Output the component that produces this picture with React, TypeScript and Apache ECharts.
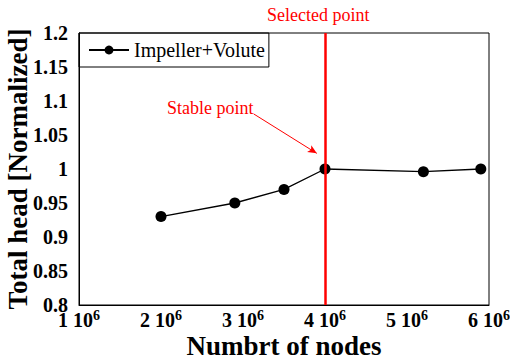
import React, { useEffect, useRef } from "react";
import * as echarts from "echarts";

const nodeCounts = [2.0e6, 2.9e6, 3.5e6, 4.0e6, 5.2e6, 5.9e6];
const headValues = [0.93, 0.95, 0.97, 1.0, 0.996, 1.0];
const selectedNodes = 4.0e6;
const arrowStart = [3.13e6, 1.081];
const arrowEnd = [3.9e6, 1.023];
const seriesName = "Impeller+Volute";

const FONT = "Liberation Serif";

export default function App() {
  const ref = useRef<HTMLDivElement>(null);
  useEffect(() => {
    if (!ref.current) return;
    const chart = echarts.init(ref.current, undefined, { renderer: "svg" });
    chart.setOption({
      animation: false,
      backgroundColor: "#fff",
      textStyle: { fontFamily: FONT },
      grid: {
        left: 79,
        right: 21,
        top: 33,
        bottom: 55,
        show: true,
        borderColor: "#000",
        borderWidth: 1,
        containLabel: false,
        outerBoundsMode: "none",
      },
      legend: {
        left: 79,
        top: 33,
        orient: "horizontal",
        borderColor: "#000",
        borderWidth: 1,
        padding: [7, 4, 7, 9],
        itemWidth: 40,
        itemHeight: 11,
        itemGap: 4,
        textStyle: { fontFamily: FONT, fontSize: 20, color: "#000" },
        data: [seriesName],
      },
      xAxis: {
        type: "value",
        min: 1e6,
        max: 6e6,
        interval: 1e6,
        splitLine: { show: false },
        axisTick: { show: false },
        axisLine: { show: true, lineStyle: { color: "#000", width: 1 } },
        axisLabel: {
          margin: 3,
          formatter: (v: number) => `{b|${Math.round(v / 1e6)} 10}{s|6}`,
          rich: {
            b: {
              fontFamily: FONT,
              fontSize: 20,
              fontWeight: 700,
              color: "#000",
              lineHeight: 22,
              verticalAlign: "bottom",
            },
            s: {
              fontFamily: FONT,
              fontSize: 14,
              fontWeight: 700,
              color: "#000",
              lineHeight: 13,
              verticalAlign: "top",
            },
          },
        },
        name: "Numbrt of nodes",
        nameLocation: "middle",
        nameGap: 27,
        nameMoveOverlap: false,
        nameTextStyle: {
          fontFamily: FONT,
          fontSize: 27,
          lineHeight: 27,
          fontWeight: 700,
          color: "#000",
          verticalAlign: "top",
        },
      },
      yAxis: {
        type: "value",
        min: 0.8,
        max: 1.2,
        interval: 0.05,
        splitLine: { show: false },
        axisTick: { show: false },
        axisLine: { show: true, lineStyle: { color: "#000", width: 1 } },
        axisLabel: {
          margin: 11,
          fontFamily: FONT,
          fontSize: 20,
          fontWeight: 700,
          color: "#000",
          padding: [0, 0, 6, 0],
          formatter: (v: number) => String(Math.round(v * 100) / 100),
        },
        name: "Total head [Normalized]",
        nameLocation: "middle",
        nameGap: 48,
        nameMoveOverlap: false,
        nameTextStyle: {
          fontFamily: FONT,
          fontSize: 27,
          lineHeight: 27,
          fontWeight: 700,
          color: "#000",
        },
      },
      graphic: [
        {
          type: "text",
          left: 267,
          top: 6,
          style: {
            text: "Selected point",
            fill: "#ff0000",
            fontFamily: FONT,
            fontSize: 18,
          },
        },
        {
          type: "text",
          left: 167,
          top: 99,
          style: {
            text: "Stable point",
            fill: "#ff0000",
            fontFamily: FONT,
            fontSize: 18,
          },
        },
      ],
      series: [
        {
          name: seriesName,
          type: "line",
          data: nodeCounts.map((x, i) => [x, headValues[i]]),
          symbol: "circle",
          symbolSize: 11,
          itemStyle: { color: "#000" },
          lineStyle: { color: "#000", width: 1.3 },
          markLine: {
            silent: true,
            animation: false,
            label: { show: false },
            data: [
              [
                { coord: [selectedNodes, 0.8], symbol: "none" },
                { coord: [selectedNodes, 1.2], symbol: "none" },
              ],
              [
                {
                  coord: arrowStart,
                  symbol: "none",
                  lineStyle: { color: "#ff0000", width: 1, type: "solid" },
                },
                {
                  coord: arrowEnd,
                  symbol: "arrow",
                  symbolSize: [6, 9],
                  lineStyle: { color: "#ff0000", width: 1, type: "solid" },
                },
              ],
            ],
            lineStyle: { color: "#ff0000", width: 2.5, type: "solid" },
          },
        },
      ],
    });
    return () => chart.dispose();
  }, []);
  return (
    <div
      ref={ref}
      style={{ position: "fixed", left: 0, top: 0, width: 510, height: 360 }}
    />
  );
}
